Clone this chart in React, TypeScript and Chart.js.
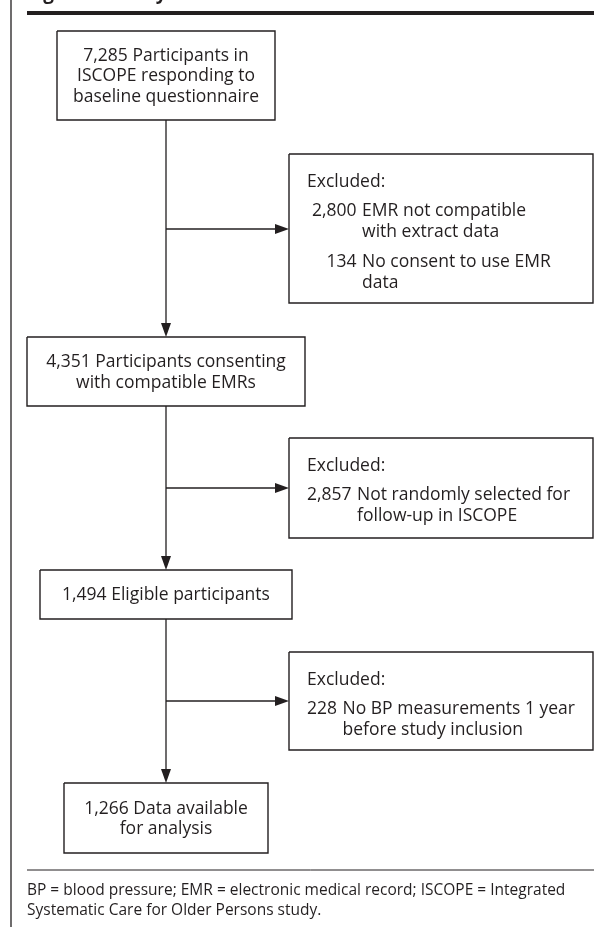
import React, { useEffect, useRef } from "react";
import { Chart, registerables } from "chart.js";

Chart.register(...registerables);

// ---------- data ----------
const titleText = "Figure 1. Study flowchart.";
const mainCounts = [7285, 4351, 1494, 1266];
const mainFirstLines = ["Participants in", "Participants consenting", "Eligible participants", "Data available"];
const mainMoreLines = [
  ["ISCOPE responding to", "baseline questionnaire"],
  ["with compatible EMRs"],
  [],
  ["for analysis"],
];
const exclusionHeader = "Excluded:";
const exclusionCounts = [[2800, 134], [2857], [228]];
const exclusionReasons = [
  [["EMR not compatible", "with extract data"], ["No consent to use EMR", "data"]],
  [["Not randomly selected for", "follow-up in ISCOPE"]],
  [["No BP measurements 1 year", "before study inclusion"]],
];
const footnoteLines = [
  "BP = blood pressure; EMR = electronic medical record; ISCOPE = Integrated",
  "Systematic Care for Older Persons study.",
];

// ---------- layout (chart units = pixels of the 609 x 927 canvas) ----------
const W = 609;
const H = 927;
const INK = "#231f20";
const FONT = "'Open Sans', 'Noto Sans', sans-serif";
const BOX_FONT_PX = 17.5;
const FOOT_FONT_PX = 15.5;
const spineX = 166;
const mainLeft = [57, 27, 40, 64];
const mainRight = [275, 305, 292, 268];
const mainTop = [31, 337, 570, 783];
const mainBottom = [120, 406, 619, 853];
const exclLeft = 289;
const exclRight = 593;
const exclTop = [154, 438, 652];
const exclBottom = [303, 538, 750];
const exclArrowY = [229, 488, 701];
const exclNumIndent = [5, 0, 0];
const frameX = 11;
const ruleLeft = 27;
const ruleRight = 594;
const topRuleY = 13;
const sepY = 870;
const footY = [891, 911];

const fmt = (n: number) => n.toLocaleString("en-US");

function seg(points: { x: number; y: number }[], width = 1.4) {
  return {
    data: points,
    showLine: true,
    borderColor: INK,
    backgroundColor: INK,
    borderWidth: width,
    pointRadius: 0,
    pointHoverRadius: 0,
    fill: false,
    tension: 0,
    clip: false as any,
  };
}

function rect(l: number, t: number, r: number, b: number) {
  return seg(
    [
      { x: l, y: t },
      { x: r, y: t },
      { x: r, y: b },
      { x: l, y: b },
      { x: l, y: t },
    ],
    1.4
  );
}

const ARROW_LEN = 14;
const ARROW_HALF = 5;

const flowPlugin = {
  id: "flowText",
  afterDatasetsDraw(chart: any) {
    const ctx: CanvasRenderingContext2D = chart.ctx;
    const xs = chart.scales.x;
    const ys = chart.scales.y;
    const px = (v: number) => xs.getPixelForValue(v);
    const py = (v: number) => ys.getPixelForValue(v);
    ctx.save();
    ctx.fillStyle = INK;

    // arrowheads
    const down = (x: number, tipY: number) => {
      ctx.beginPath();
      ctx.moveTo(px(x), py(tipY));
      ctx.lineTo(px(x) - ARROW_HALF, py(tipY) - ARROW_LEN);
      ctx.lineTo(px(x) + ARROW_HALF, py(tipY) - ARROW_LEN);
      ctx.closePath();
      ctx.fill();
    };
    const right = (tipX: number, y: number) => {
      ctx.beginPath();
      ctx.moveTo(px(tipX), py(y));
      ctx.lineTo(px(tipX) - ARROW_LEN, py(y) - ARROW_HALF);
      ctx.lineTo(px(tipX) - ARROW_LEN, py(y) + ARROW_HALF);
      ctx.closePath();
      ctx.fill();
    };
    for (let i = 1; i < mainTop.length; i++) down(spineX, mainTop[i]);
    exclArrowY.forEach((y) => right(exclLeft, y));

    // title (cut off at the top edge)
    ctx.font = `bold 19px ${FONT}`;
    ctx.textBaseline = "alphabetic";
    ctx.textAlign = "left";
    ctx.fillText(titleText, px(ruleLeft), py(-1));

    // main boxes text
    ctx.font = `${BOX_FONT_PX}px ${FONT}`;
    ctx.textAlign = "center";
    ctx.textBaseline = "middle";
    const lh = 20.5;
    mainCounts.forEach((c, i) => {
      const lines = [`${fmt(c)} ${mainFirstLines[i]}`, ...mainMoreLines[i]];
      const cx = (mainLeft[i] + mainRight[i]) / 2;
      const cy = (mainTop[i] + mainBottom[i]) / 2 + 1;
      const y0 = cy - ((lines.length - 1) * lh) / 2;
      lines.forEach((t, k) => ctx.fillText(t, px(cx), py(y0 + k * lh)));
    });

    // exclusion boxes text
    ctx.textAlign = "left";
    const padX = 18;
    exclusionCounts.forEach((counts, i) => {
      let y = exclTop[i] + 28;
      ctx.textAlign = "left";
      ctx.fillText(exclusionHeader, px(exclLeft + padX), py(y));
      const numW = Math.max(...counts.map((c) => ctx.measureText(fmt(c)).width));
      const spaceW = ctx.measureText(" ").width;
      const numRight = exclLeft + padX + exclNumIndent[i] + numW;
      const textX = numRight + spaceW + 1;
      y += 29;
      counts.forEach((c, j) => {
        ctx.textAlign = "right";
        ctx.fillText(fmt(c), px(numRight), py(y));
        ctx.textAlign = "left";
        exclusionReasons[i][j].forEach((t, k) => {
          ctx.fillText(t, px(textX), py(y + k * 21));
        });
        y += (exclusionReasons[i][j].length - 1) * 21 + 30;
      });
    });

    // footnote
    ctx.font = `${FOOT_FONT_PX}px ${FONT}`;
    ctx.textAlign = "left";
    footnoteLines.forEach((t, k) => ctx.fillText(t, px(ruleLeft), py(footY[k])));
    ctx.restore();
  },
};

export default function App() {
  const ref = useRef<HTMLCanvasElement | null>(null);
  useEffect(() => {
    let chart: Chart | null = null;
    let cancelled = false;
    const build = () => {
      if (cancelled || !ref.current) return;
      const datasets: any[] = [];
      datasets.push(seg([{ x: frameX, y: 0 }, { x: frameX, y: H }], 1.3));
      datasets.push(seg([{ x: ruleLeft, y: topRuleY }, { x: ruleRight, y: topRuleY }], 4));
      datasets.push(seg([{ x: ruleLeft, y: sepY }, { x: ruleRight, y: sepY }], 1));
      for (let i = 0; i < mainTop.length; i++) datasets.push(rect(mainLeft[i], mainTop[i], mainRight[i], mainBottom[i]));
      for (let i = 0; i < exclTop.length; i++) datasets.push(rect(exclLeft, exclTop[i], exclRight, exclBottom[i]));
      for (let i = 0; i < mainTop.length - 1; i++) {
        datasets.push(seg([{ x: spineX, y: mainBottom[i] }, { x: spineX, y: mainTop[i + 1] - 4 }], 1.3));
        datasets.push(seg([{ x: spineX, y: exclArrowY[i] }, { x: exclLeft - 4, y: exclArrowY[i] }], 1.3));
      }
      chart = new Chart(ref.current, {
        type: "scatter",
        data: { datasets },
        options: {
          animation: false,
          responsive: false,
          maintainAspectRatio: false,
          devicePixelRatio: 1,
          layout: { padding: 0 },
          events: [],
          plugins: { legend: { display: false }, tooltip: { enabled: false }, title: { display: false } },
          scales: {
            x: { type: "linear", min: 0, max: W, display: false },
            y: { type: "linear", min: 0, max: H, reverse: true, display: false },
          },
        },
        plugins: [flowPlugin],
      });
    };
    const fonts: any = (document as any).fonts;
    if (fonts && fonts.load) {
      Promise.all([fonts.load(`${BOX_FONT_PX}px 'Open Sans'`), fonts.load(`bold 19px 'Open Sans'`)])
        .catch(() => null)
        .then(build);
    } else build();
    return () => {
      cancelled = true;
      if (chart) chart.destroy();
    };
  }, []);
  return (
    <div style={{ position: "absolute", left: 0, top: 0, width: W, height: H, background: "#fff" }}>
      <canvas ref={ref} width={W} height={H} style={{ display: "block", width: W, height: H }} />
    </div>
  );
}
